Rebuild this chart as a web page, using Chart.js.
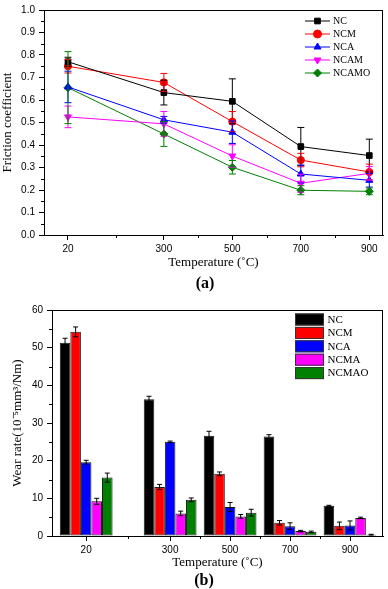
<!DOCTYPE html>
<html><head><meta charset="utf-8">
<script src="https://cdn.jsdelivr.net/npm/chart.js@4/dist/chart.umd.min.js"></script>
<style>
html,body{margin:0;padding:0;background:#fff;}
#wrap{position:relative;width:388px;height:589px;overflow:hidden;background:#fff;}
#c1{position:absolute;left:0;top:0;}
#c2{position:absolute;left:0;top:290px;}
.lab{position:absolute;font-family:"Liberation Serif","Times New Roman",serif;font-weight:bold;font-size:16px;color:#000;transform:translate(-50%,-50%);white-space:nowrap;}
</style></head>
<body>
<div id="wrap">
<canvas id="c1" width="388" height="270"></canvas>
<canvas id="c2" width="388" height="280"></canvas>
<div class="lab" style="left:205px;top:283px;">(a)</div>
<div class="lab" style="left:204px;top:580px;">(b)</div>
</div>
<script>
// ---------- data ----------
const temps = [20, 300, 500, 700, 900];
const minorXTicks = [160, 400, 600, 800];
const fricMinorY = [0.05, 0.15, 0.25, 0.35, 0.45, 0.55, 0.65, 0.75, 0.85, 0.95];
const wearMinorY = [5, 15, 25, 35, 45, 55];

const fricNames = ['NC', 'NCM', 'NCA', 'NCAM', 'NCAMO'];
const fricNC    = [0.770, 0.633, 0.594, 0.393, 0.353];
const fricNCM   = [0.750, 0.678, 0.504, 0.333, 0.280];
const fricNCA   = [0.658, 0.512, 0.457, 0.271, 0.243];
const fricNCAM  = [0.525, 0.494, 0.351, 0.230, 0.274];
const fricNCAMO = [0.655, 0.449, 0.301, 0.199, 0.194];
const fricErrNC    = [0.020, 0.055, 0.100, 0.085, 0.073];
const fricErrNCM   = [0.030, 0.040, 0.045, 0.030, 0.035];
const fricErrNCA   = [0.070, 0.015, 0.050, 0.040, 0.030];
const fricErrNCAM  = [0.048, 0.055, 0.050, 0.040, 0.030];
const fricErrNCAMO = [0.160, 0.055, 0.030, 0.020, 0.015];

const wearNames = ['NC', 'NCM', 'NCA', 'NCMA', 'NCMAO'];
const wearNC    = [51.3, 36.3, 26.6, 26.4, 8.0];
const wearNCM   = [54.2, 13.0, 16.5, 3.5, 2.7];
const wearNCA   = [19.6, 25.0, 7.7, 2.6, 2.8];
const wearNCMA  = [9.2, 6.0, 5.2, 1.3, 4.8];
const wearNCMAO = [15.5, 9.6, 6.2, 1.1, 0.35];
const wearErrNC    = [1.2, 0.8, 1.2, 0.5, 0.15];
const wearErrNCM   = [1.3, 0.7, 0.5, 0.6, 1.0];
const wearErrNCA   = [0.5, 0.2, 1.2, 0.9, 1.2];
const wearErrNCMA  = [0.8, 0.6, 0.5, 0.2, 0.2];
const wearErrNCMAO = [1.2, 0.5, 0.9, 0.2, 0.1];

// ---------- styles ----------
const colors = ['#000000', '#ff0000', '#0000ff', '#ff00ff', '#008000'];
const SANS = '"Liberation Sans", Arial, sans-serif';
const SERIF = '"Liberation Serif", "Times New Roman", serif';

function pts(vals){ return temps.map((t,i)=>({x:t, y:vals[i]})); }

// ---------- plugins ----------
function drawMarker(ctx, style, rot, x, y, r, color){
  ctx.save();
  ctx.fillStyle = color; ctx.strokeStyle = color; ctx.lineWidth = 1;
  ctx.beginPath();
  if (style === 'rect') {
    const s = r / Math.SQRT2;
    ctx.rect(x - s, y - s, 2*s, 2*s);
  } else if (style === 'circle') {
    ctx.arc(x, y, r, 0, Math.PI*2);
  } else if (style === 'triangle') {
    const dir = rot === 180 ? -1 : 1;
    ctx.moveTo(x, y - dir*r);
    ctx.lineTo(x - r*0.866, y + dir*r*0.5);
    ctx.lineTo(x + r*0.866, y + dir*r*0.5);
    ctx.closePath();
  } else if (style === 'rectRot') {
    const s = r;
    ctx.moveTo(x, y - s); ctx.lineTo(x + s, y); ctx.lineTo(x, y + s); ctx.lineTo(x - s, y); ctx.closePath();
  }
  ctx.fill(); ctx.stroke();
  ctx.restore();
}

const errorBarPlugin = {
  id: 'errBars',
  afterDatasetsDraw(chart, args, opts) {
    const ctx = chart.ctx; const ys = chart.scales.y;
    chart.data.datasets.forEach((ds, i) => {
      const meta = chart.getDatasetMeta(i);
      ctx.save();
      ctx.strokeStyle = opts.useSeriesColor ? ds.errColor : '#000';
      ctx.lineWidth = 1;
      meta.data.forEach((el, j) => {
        const v = ds.data[j].y, e = ds.errors[j];
        const x = el.x;
        const y1 = ys.getPixelForValue(v + e), y2 = ys.getPixelForValue(v - e);
        const c = opts.cap;
        ctx.beginPath();
        ctx.moveTo(x, y1); ctx.lineTo(x, y2);
        ctx.moveTo(x - c, y1); ctx.lineTo(x + c, y1);
        ctx.moveTo(x - c, y2); ctx.lineTo(x + c, y2);
        ctx.stroke();
      });
      ctx.restore();
    });
  }
};

const frameAndMinor = {
  id: 'frameMinor',
  afterDraw(chart, args, opts) {
    const ctx = chart.ctx, a = chart.chartArea;
    ctx.save();
    ctx.strokeStyle = '#000'; ctx.lineWidth = 1;
    ctx.strokeRect(Math.round(a.left)+0.5, Math.round(a.top)+0.5, Math.round(a.right-a.left)-1, Math.round(a.bottom-a.top));
    ctx.beginPath();
    opts.minorX.forEach(v => {
      const px = Math.round(chart.scales.x.getPixelForValue(v)) + 0.5;
      ctx.moveTo(px, a.bottom); ctx.lineTo(px, a.bottom + 3);
    });
    opts.minorY.forEach(v => {
      const py = Math.round(chart.scales.y.getPixelForValue(v)) + 0.5;
      ctx.moveTo(a.left, py); ctx.lineTo(a.left - 3, py);
    });
    ctx.stroke();
    ctx.restore();
  }
};

const lineLegend = {
  id: 'lineLegend',
  afterDraw(chart) {
    const ctx = chart.ctx, a = chart.chartArea;
    ctx.save();
    ctx.font = '10px ' + SERIF; ctx.textBaseline = 'middle'; ctx.fillStyle = '#000';
    chart.data.datasets.forEach((ds, i) => {
      const y = a.top + 11 + 13*i;
      const x0 = a.right - 78, x1 = a.right - 53;
      ctx.strokeStyle = ds.borderColor; ctx.lineWidth = 1;
      ctx.beginPath(); ctx.moveTo(x0, y); ctx.lineTo(x1, y); ctx.stroke();
      drawMarker(ctx, ds.pointStyle, ds.pointRotation || 0, (x0+x1)/2, y, 4, ds.borderColor);
      ctx.fillStyle = '#000';
      ctx.fillText(ds.label, a.right - 50, y + 0.5);
    });
    ctx.restore();
  }
};

const barLegend = {
  id: 'barLegend',
  afterDraw(chart) {
    const ctx = chart.ctx, a = chart.chartArea;
    ctx.save();
    ctx.font = '11px ' + SERIF; ctx.textBaseline = 'middle';
    chart.data.datasets.forEach((ds, i) => {
      const y = a.top + 9.5 + 13.4*i;
      const x0 = a.right - 88;
      ctx.fillStyle = ds.backgroundColor;
      ctx.fillRect(x0, y - 6, 29, 12);
      ctx.strokeStyle = '#333'; ctx.lineWidth = 1;
      ctx.strokeRect(x0 + 0.5, y - 5.5, 28, 11);
      ctx.fillStyle = '#000';
      ctx.fillText(ds.label, a.right - 55.5, y + 0.5);
    });
    ctx.restore();
  }
};

// ---------- chart (a) ----------
const fricVals = [fricNC, fricNCM, fricNCA, fricNCAM, fricNCAMO];
const fricErrs = [fricErrNC, fricErrNCM, fricErrNCA, fricErrNCAM, fricErrNCAMO];
const pStyles = ['rect', 'circle', 'triangle', 'triangle', 'rectRot'];
const pRot = [0, 0, 0, 180, 0];

new Chart(document.getElementById('c1'), {
  type: 'line',
  data: {
    datasets: fricNames.map((n, i) => ({
      label: n,
      data: pts(fricVals[i]),
      errors: fricErrs[i],
      errColor: colors[i],
      borderColor: colors[i],
      backgroundColor: colors[i],
      borderWidth: 1,
      pointStyle: pStyles[i],
      pointRotation: pRot[i],
      pointRadius: i === 1 ? 3.6 : 4,
      pointBorderWidth: 1,
      tension: 0
    }))
  },
  options: {
    responsive: false, animation: false,
    layout: { padding: { top: 5, right: 3, left: 0, bottom: 0 } },
    plugins: { legend: { display: false }, tooltip: { enabled: false },
      errBars: { cap: 3.5, useSeriesColor: true },
      frameMinor: { minorX: minorXTicks, minorY: fricMinorY } },
    scales: {
      x: {
        type: 'linear', min: -50, max: 940,
        afterBuildTicks: s => { s.ticks = temps.map(v => ({ value: v })); },
        afterFit: s => { s.height = 35; },
        ticks: { autoSkip: false, font: { family: SANS, size: 10 }, color: '#000', padding: 3, maxRotation: 0, callback: v => String(v) },
        grid: { drawOnChartArea: false, drawTicks: true, tickLength: 5, color: '#000' },
        border: { display: true, color: '#000', width: 1 },
        title: { display: true, text: 'Temperature (˚C)', font: { family: SERIF, size: 13 }, color: '#000', padding: { top: 0, bottom: 0 } }
      },
      y: {
        min: 0, max: 1,
        afterFit: s => { s.width = 44; },
        ticks: { stepSize: 0.1, font: { family: SANS, size: 10 }, color: '#000', padding: 4, callback: v => Number(v).toFixed(1) },
        grid: { drawOnChartArea: false, drawTicks: true, tickLength: 5, color: '#000' },
        border: { display: true, color: '#000', width: 1 },
        title: { display: true, text: 'Friction coefficient', font: { family: SERIF, size: 13 }, color: '#000', padding: { top: 0, bottom: 2 } }
      }
    }
  },
  plugins: [errorBarPlugin, frameAndMinor, lineLegend]
});

// ---------- chart (b) ----------
const wearVals = [wearNC, wearNCM, wearNCA, wearNCMA, wearNCMAO];
const wearErrs = [wearErrNC, wearErrNCM, wearErrNCA, wearErrNCMA, wearErrNCMAO];

new Chart(document.getElementById('c2'), {
  type: 'bar',
  data: {
    datasets: wearNames.map((n, i) => ({
      label: n,
      data: pts(wearVals[i]),
      errors: wearErrs[i],
      backgroundColor: colors[i],
      borderColor: '#1a1a1a',
      borderWidth: 1,
      borderSkipped: false,
      categoryPercentage: 0.88,
      barPercentage: 1.0
    }))
  },
  options: {
    responsive: false, animation: false,
    layout: { padding: { top: 20, right: 5, left: 0, bottom: 0 } },
    plugins: { legend: { display: false }, tooltip: { enabled: false },
      errBars: { cap: 2.5, useSeriesColor: false },
      frameMinor: { minorX: minorXTicks, minorY: wearMinorY } },
    scales: {
      x: {
        type: 'linear', min: -94, max: 1010, offset: false,
        afterBuildTicks: s => { s.ticks = temps.map(v => ({ value: v })); },
        afterFit: s => { s.height = 34; },
        ticks: { autoSkip: false, font: { family: SANS, size: 10 }, color: '#000', padding: 3, maxRotation: 0, callback: v => String(v) },
        grid: { offset: false, drawOnChartArea: false, drawTicks: true, tickLength: 5, color: '#000' },
        border: { display: true, color: '#000', width: 1 },
        title: { display: true, text: 'Temperature (˚C)', font: { family: SERIF, size: 13 }, color: '#000', padding: { top: 0, bottom: 0 } }
      },
      y: {
        min: 0, max: 60,
        afterFit: s => { s.width = 52; },
        ticks: { stepSize: 10, font: { family: SANS, size: 10 }, color: '#000', padding: 4 },
        grid: { drawOnChartArea: false, drawTicks: true, tickLength: 5, color: '#000' },
        border: { display: true, color: '#000', width: 1 },
        title: { display: true, text: 'Wear rate(10⁻⁵mm³/Nm)', font: { family: SERIF, size: 13 }, color: '#000', padding: { top: 10, bottom: 2 } }
      }
    }
  },
  plugins: [errorBarPlugin, frameAndMinor, barLegend]
});
</script>
</body></html>
